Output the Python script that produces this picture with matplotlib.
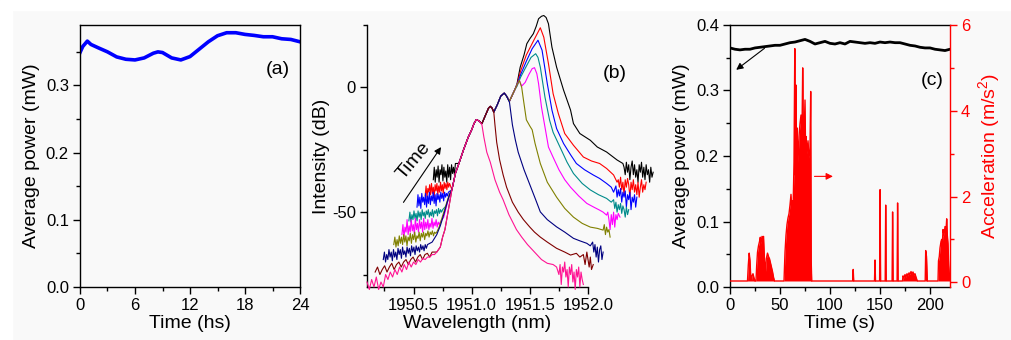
import numpy as np
import matplotlib
matplotlib.use("Agg")
import matplotlib.pyplot as plt
from matplotlib.patches import Rectangle
from matplotlib.ticker import MultipleLocator, FormatStrFormatter

plt.rcParams['font.family'] = ['Liberation Sans', 'DejaVu Sans']
plt.rcParams['mathtext.fontset'] = 'custom'
plt.rcParams['mathtext.rm'] = 'Liberation Sans'
plt.rcParams['mathtext.it'] = 'Liberation Sans:italic'
plt.rcParams['axes.unicode_minus'] = False

# ---------------- panel (a) data ----------------
a_time = [0, 0.3, 0.8, 1.2, 2, 3, 4, 5, 6, 7, 8, 8.5, 9, 10, 11, 12, 13, 14, 15, 16, 17, 18, 19, 20, 21, 22, 23, 24]
a_power = [0.349, 0.358, 0.366, 0.361, 0.356, 0.350, 0.3425, 0.339, 0.338, 0.341, 0.348, 0.350, 0.349, 0.341,
           0.338, 0.343, 0.354, 0.365, 0.374, 0.3785, 0.3785, 0.376, 0.3745, 0.3725, 0.3725, 0.3695, 0.3685, 0.365]

# ---------------- panel (b) data ----------------
env_wl = [1950.70, 1950.73, 1950.75, 1950.77, 1950.785, 1950.80, 1950.83, 1950.86, 1950.89, 1950.93, 1950.97,
          1951.00, 1951.02, 1951.04, 1951.065, 1951.088, 1951.12, 1951.145, 1951.16, 1951.175, 1951.19, 1951.22,
          1951.25, 1951.28, 1951.30, 1951.325, 1951.35, 1951.37]
env_db = [-66, -64, -60, -57, -53, -49, -41, -34.5, -30.5, -25, -20, -17, -14.5, -12.9, -13.5, -14.5, -11, -8.3,
          -7.6, -8.3, -9.9, -7, -3.5, -2.3, -3.5, -5.5, -3, -1]

curve_names = ['black', 'red', 'blue', 'teal', 'magenta', 'olive', 'navy', 'wine', 'pink']
curve_colors = ['#000000', '#FF0000', '#0000FF', '#008B8B', '#FF00FF', '#808000', '#000080', '#800000', '#FF1493']

floor_range = {
    'black': (1950.67, 1950.86), 'red': (1950.60, 1950.81), 'blue': (1950.53, 1950.80),
    'teal': (1950.46, 1950.75), 'magenta': (1950.40, 1950.73), 'olive': (1950.33, 1950.70),
    'navy': (1950.24, 1950.62), 'wine': (1950.17, 1950.68), 'pink': (1950.10, 1950.68)}
floor_black = [-37, -32, -38, -33, -36, -31.5, -38, -33, -35, -31, -37.5, -32, -36, -33.5, -38, -31, -36, -32, -37,
               -31, -34.5, -32, -35, -30.5]
floor_red = [-43.5, -39.5, -44, -40.5, -42, -39, -43, -38.5, -42.5, -40, -44, -39, -41.5, -38.5, -43, -39.5, -42, -38,
             -41.5, -39, -42.5, -38, -40.5, -38.5, -41, -38, -40, -38.5]
floor_blue = [-48, -43, -47.5, -44, -48.5, -42.5, -46, -44, -47, -42.5, -48, -43.5, -46.5, -42, -47, -43.5, -45.5, -42,
              -46.5, -43, -47.5, -42.5, -45, -43, -46, -42, -44.5, -42.5, -45.5, -42, -44, -42.5, -43.5, -42]
floor_teal = [-53.5, -50, -54, -51, -53, -49.5, -52.5, -50.5, -53.5, -49.5, -52, -50, -53, -49, -51.5, -50, -52.5,
              -49.5, -51, -49, -52, -50, -51.5, -49, -52, -49.5, -50.5, -49, -51.5, -48.5, -50.5, -49, -50, -49]
floor_magenta = [-59, -55, -60, -56, -58, -53, -59, -55.5, -58, -53, -57.5, -55, -59, -52.5, -57, -54.5, -58, -53,
                 -56.5, -54, -58, -52.5, -57, -54, -56.5, -53, -57, -54.5, -56, -52.5, -56.5, -54, -55.5, -53, -56,
                 -54, -55, -54]
floor_olive = [-63, -60, -64, -61, -63.5, -59.5, -62.5, -60, -63, -59, -62, -59.5, -63.5, -60, -61.5, -58.5, -62.5,
               -59, -61, -58, -62, -59.5, -60.5, -58, -61.5, -58.5, -60, -58, -61, -58.5, -59.5, -57.5, -60, -58,
               -59, -57.5, -59.5, -58, -58.5, -58]
floor_navy = [-69, -66, -70, -67, -69, -65, -68, -66, -69.5, -65, -68, -66, -69, -64.5, -67, -65, -68.5, -64, -67,
              -65.5, -68, -64, -66.5, -64.5, -67.5, -63.5, -66, -64, -67, -63.5, -65.5, -64, -66, -63, -65, -63.5,
              -65.5, -63, -64.5, -63]
floor_wine = [-74, -72, -75, -73, -71.5, -74, -72, -70.5, -73, -71, -70, -72, -70, -69, -71, -69, -68, -70, -68, -67,
              -69, -67, -66.5, -68, -66, -66]
floor_pink = [-78, -81, -77, -80, -76, -81, -78, -80, -75, -77, -74, -76, -73, -75, -72, -74, -71, -73, -70, -72, -70,
              -71, -69, -70, -68.5, -69, -68, -68, -67, -67]

join_wl = {'navy': [1950.66, 1950.70, 1950.73, 1950.76, 1950.79, 1950.81],
           'olive': [1950.72, 1950.75, 1950.78, 1950.81],
           'magenta': [1950.76, 1950.79, 1950.81],
           'teal': [1950.78, 1950.81]}
join_db = {'navy': [-62, -59, -55.5, -51, -46, -43],
           'olive': [-56, -51.5, -47, -42.5],
           'magenta': [-52, -46.5, -43],
           'teal': [-47.5, -43]}

own_black_wl = [1951.39, 1951.417, 1951.45, 1951.474, 1951.50, 1951.53, 1951.555, 1951.575, 1951.60, 1951.62, 1951.64,
                1951.66, 1951.69, 1951.73, 1951.79, 1951.85, 1951.875, 1951.93, 1952.02, 1952.08, 1952.16, 1952.25,
                1952.30, 1952.31, 1952.32, 1952.33, 1952.34, 1952.35, 1952.36, 1952.37, 1952.38, 1952.39, 1952.40,
                1952.41, 1952.42, 1952.43, 1952.44, 1952.45, 1952.46, 1952.47, 1952.48, 1952.49, 1952.50, 1952.51,
                1952.52, 1952.53, 1952.54, 1952.55, 1952.56]
own_black_db = [1.5, 8.1, 13, 17.5, 19.5, 21.5, 24.5, 27.5, 28.5, 28.8, 28, 25.5, 16.1, 8.1, -1.1, -9.1, -14.5, -18.5,
                -21.2, -23.9, -25.9, -29.1, -30.5, -32, -35, -30, -34, -31, -37, -32, -29.5, -35, -31, -36, -33, -38,
                -31, -34, -30, -36, -32, -37, -31, -35, -33, -38, -32, -36, -34]
own_red_wl = [1951.39, 1951.42, 1951.47, 1951.53, 1951.59, 1951.62, 1951.66, 1951.70, 1951.745, 1951.80, 1951.875,
              1951.96, 1952.03, 1952.10, 1952.16, 1952.22, 1952.25, 1952.26, 1952.27, 1952.28, 1952.29, 1952.30,
              1952.31, 1952.32, 1952.33, 1952.34, 1952.35, 1952.36, 1952.37, 1952.38, 1952.39, 1952.40, 1952.41,
              1952.42, 1952.43, 1952.44, 1952.45, 1952.46, 1952.47, 1952.48, 1952.49, 1952.50]
own_red_db = [1, 6.5, 13, 18.5, 23.9, 20.1, 9.5, -2.5, -10.5, -18.5, -23.2, -27.9, -29.5, -30.5, -32.5, -35.1, -38,
              -37, -40, -36, -41, -38, -43, -37, -40, -36.5, -39, -44, -38, -41, -37, -42, -39, -43, -38, -44, -40,
              -37, -42, -39, -41, -38]
own_blue_wl = [1951.39, 1951.42, 1951.47, 1951.52, 1951.57, 1951.605, 1951.65, 1951.69, 1951.73, 1951.79, 1951.85,
               1951.90, 1951.97, 1952.045, 1952.10, 1952.16, 1952.20, 1952.22, 1952.24, 1952.25, 1952.26, 1952.27,
               1952.28, 1952.29, 1952.30, 1952.31, 1952.32, 1952.33, 1952.34, 1952.35, 1952.36, 1952.37, 1952.38,
               1952.39, 1952.40, 1952.41, 1952.42]
own_blue_db = [1, 5, 10.5, 15.5, 18.9, 14.9, 1.5, -9.1, -16.5, -22.5, -27, -30.5, -33, -35.1, -36.5, -38.5, -40, -42,
               -39.5, -44, -41, -43.5, -40.5, -46, -42, -44, -41.5, -48, -43, -45, -42, -49, -44, -46, -43, -48, -44]
own_teal_wl = [1951.39, 1951.42, 1951.47, 1951.51, 1951.55, 1951.57, 1951.59, 1951.63, 1951.67, 1951.70, 1951.76,
               1951.82, 1951.875, 1951.95, 1952.02, 1952.09, 1952.16, 1952.20, 1952.22, 1952.23, 1952.24, 1952.25,
               1952.26, 1952.27, 1952.28, 1952.29, 1952.30, 1952.31, 1952.32, 1952.33, 1952.34, 1952.35]
own_teal_db = [0.5, 4, 8.5, 12, 13.5, 12, 8.1, -3.9, -13.2, -18, -24, -30, -34.5, -38.5, -41.1, -43, -44.5, -46, -45,
               -48.5, -46, -50, -47, -49, -46.5, -50.5, -47.5, -49, -52, -48, -51, -49]
own_magenta_wl = [1951.39, 1951.41, 1951.43, 1951.46, 1951.49, 1951.52, 1951.54, 1951.56, 1951.575, 1951.60,
                  1951.63, 1951.66, 1951.70, 1951.75, 1951.80, 1951.85, 1951.92, 1951.99, 1952.05, 1952.10, 1952.13,
                  1952.16, 1952.17, 1952.18, 1952.19, 1952.20, 1952.21, 1952.22, 1952.23, 1952.24, 1952.25, 1952.26,
                  1952.275]
own_magenta_db = [1, 2.8, 0.5, 2, 5, 7.5, 7.9, 5.5, 1.5, -7.9, -15.9, -23.9, -28, -33, -37, -40, -43.5, -46.5, -48,
                  -49.2, -50, -51.2, -50, -53, -57, -51, -55, -50, -56, -51, -53, -50.5, -52]
own_olive_wl = [1951.39, 1951.41, 1951.43, 1951.445, 1951.47, 1951.50, 1951.52, 1951.545, 1951.59, 1951.65, 1951.73,
                1951.80, 1951.875, 1951.95, 1952.02, 1952.08, 1952.13, 1952.14, 1952.15, 1952.16, 1952.17, 1952.18,
                1952.19]
own_olive_db = [1, 2.8, 0, -5, -13, -15.5, -17, -22.5, -30.5, -38, -44, -48.5, -52, -54.5, -56, -56.5, -57.2, -55,
                -59, -56, -58, -57, -60]
own_navy_wl = [1951.30, 1951.325, 1951.35, 1951.375, 1951.40, 1951.45, 1951.50, 1951.55, 1951.59, 1951.65, 1951.73,
               1951.80, 1951.875, 1951.93, 1951.99, 1952.02, 1952.04, 1952.05, 1952.06, 1952.07, 1952.08, 1952.09,
               1952.10, 1952.11, 1952.12, 1952.13]
own_navy_db = [-3.5, -6, -15, -21, -26, -33, -39, -45, -49.9, -53, -55.9, -58, -60.5, -61.5, -62.5, -63.5, -62, -66,
               -63, -68, -64, -70, -65, -63.5, -69, -66]
own_wine_wl = [1951.175, 1951.19, 1951.20, 1951.215, 1951.24, 1951.27, 1951.30, 1951.35, 1951.40, 1951.445, 1951.50,
               1951.54, 1951.59, 1951.65, 1951.73, 1951.80, 1951.85, 1951.90, 1951.93, 1951.96, 1951.975, 1951.99,
               1952.00, 1952.01, 1952.02, 1952.03, 1952.045]
own_wine_db = [-8.3, -9.9, -15, -22, -29, -35, -40, -46, -50, -53, -56, -58, -60, -62, -64.5, -66, -67.2, -66.5, -68,
               -67, -71, -66, -69, -72, -68, -73, -71]
own_pink_wl = [1951.065, 1951.088, 1951.105, 1951.13, 1951.16, 1951.20, 1951.24, 1951.27, 1951.32, 1951.385, 1951.43,
               1951.48, 1951.52, 1951.56, 1951.60, 1951.65, 1951.70, 1951.73, 1951.75, 1951.76, 1951.77, 1951.78,
               1951.79, 1951.80, 1951.81, 1951.82, 1951.83, 1951.84, 1951.85, 1951.86, 1951.87, 1951.88, 1951.89,
               1951.90, 1951.91, 1951.92, 1951.93, 1951.94, 1951.95, 1951.96]
own_pink_db = [-13.5, -15, -20, -26, -30, -37, -42, -45, -51, -57, -60, -63, -65, -67, -69, -70.5, -71, -72, -75, -71,
               -79, -72, -74, -70, -76, -73, -80, -72, -75, -71, -78, -74, -81, -73, -76, -72, -80, -74, -77, -79]

floors = {'black': floor_black, 'red': floor_red, 'blue': floor_blue, 'teal': floor_teal,
          'magenta': floor_magenta, 'olive': floor_olive, 'navy': floor_navy, 'wine': floor_wine, 'pink': floor_pink}
owns = {'black': (own_black_wl, own_black_db), 'red': (own_red_wl, own_red_db), 'blue': (own_blue_wl, own_blue_db),
        'teal': (own_teal_wl, own_teal_db), 'magenta': (own_magenta_wl, own_magenta_db),
        'olive': (own_olive_wl, own_olive_db), 'navy': (own_navy_wl, own_navy_db),
        'wine': (own_wine_wl, own_wine_db), 'pink': (own_pink_wl, own_pink_db)}

# ---------------- panel (c) data ----------------
c_time = [0, 5, 10, 15, 20, 25, 30, 35, 40, 45, 50, 55, 60, 65, 70, 75, 80, 85, 90, 95, 100, 105, 110, 115, 120,
          125, 130, 135, 140, 145, 150, 155, 160, 165, 170, 175, 180, 185, 190, 195, 200, 205, 210, 215, 220]
c_power = [0.365, 0.363, 0.362, 0.363, 0.363, 0.365, 0.366, 0.367, 0.368, 0.369, 0.369, 0.371, 0.373, 0.374, 0.376,
           0.378, 0.375, 0.371, 0.373, 0.375, 0.372, 0.371, 0.373, 0.371, 0.375, 0.374, 0.373, 0.372, 0.373, 0.372,
           0.374, 0.373, 0.374, 0.373, 0.373, 0.371, 0.369, 0.368, 0.366, 0.365, 0.365, 0.363, 0.362, 0.361, 0.363]
acc_time = [0, 17.5, 18.3, 19.2, 20, 20.7, 21.5, 22, 23, 24, 25,
            26, 26.7, 27.5, 28.5, 29.5, 30.3, 31, 32, 33, 33.5, 34.5, 35.5, 36.3, 37.5, 38.5, 39.5, 40.5, 41.5,
            42.5, 43.5, 44.5,
            54, 55, 56, 57, 58, 59, 60, 61, 62, 62.5, 63, 64, 64.8, 65.3, 66, 66.5, 67, 68, 69, 70, 71, 72, 72.7,
            73.3, 74, 75, 75.5, 76, 77, 78, 79, 80, 80.7, 81.2, 81.7,
            122.7, 123.2, 123.7, 144.5, 145, 145.5, 149.6, 150.1, 150.6, 155.2, 155.7, 156.2, 162.1, 162.6, 163.1,
            167.1, 167.6, 168.1,
            172.5, 173, 174, 175, 176, 177, 178, 179, 180, 181, 182, 183, 184, 185, 186, 187, 187.5,
            195.2, 195.7, 196.5, 197.3,
            208, 208.5, 209.3, 210, 211, 211.7, 212.3, 213, 214, 215, 216, 216.7, 217.3, 218, 218.7, 219.3, 220]
acc_value = [0.03, 0.03, 0.4, 0.68, 0.5, 0.15, 0.05, 0.15, 0.2, 0.1, 0.03,
             0.03, 0.4, 0.7, 0.85, 0.95, 1.05, 0.9, 1.07, 1.0, 1.07, 0.5, 0.25, 0.55, 0.68, 0.6, 0.55, 0.45, 0.35,
             0.25, 0.12, 0.03,
             0.03, 0.7, 1.1, 1.35, 1.5, 1.6, 1.8, 2.05, 1.5, 1.9, 1.6, 2.8, 5.45, 2.5, 4.6, 3.0, 3.6, 2.8, 3.4,
             3.7, 3.9, 3.5, 5.0, 3.6, 3.3, 4.25, 3.2, 3.4, 3.0, 3.3, 2.9, 3.1, 4.45, 0.5, 0.03,
             0.03, 0.30, 0.03, 0.03, 0.52, 0.03, 0.03, 2.16, 0.03, 0.03, 1.80, 0.03, 0.03, 1.64, 0.03,
             0.03, 1.85, 0.03,
             0.03, 0.15, 0.1, 0.18, 0.12, 0.2, 0.15, 0.22, 0.18, 0.25, 0.2, 0.24, 0.17, 0.2, 0.12, 0.05, 0.03,
             0.03, 0.74, 0.6, 0.03,
             0.03, 0.5, 0.6, 0.8, 0.95, 1.0, 0.85, 1.23, 1.1, 1.3, 1.2, 1.48, 1.1, 0.9, 0.4, 0.2, 0.05]

# ---------------- figure ----------------
W, H = 1012, 340
bg = '#f9f9f9'
fig = plt.figure(figsize=(W / 100, H / 100), dpi=100, facecolor=bg)
fig.patches.append(Rectangle((0, 1 - 10 / H), 1, 10 / H, transform=fig.transFigure, color='white', zorder=-5))
fig.patches.append(Rectangle((0, 0), 12 / W, 1, transform=fig.transFigure, color='white', zorder=-5))


def px_axes(x0, x1, y0, y1):
    return fig.add_axes([x0 / W, (H - y1) / H, (x1 - x0) / W, (y1 - y0) / H])


def style(ax):
    ax.set_facecolor('none')
    ax.tick_params(which='both', direction='out', width=1.0, labelsize=12, pad=3)
    ax.tick_params(which='major', length=5)
    ax.tick_params(which='minor', length=3)
    for s in ax.spines.values():
        s.set_linewidth(1.0)


# (a)
axa = px_axes(80, 300, 25, 287)
style(axa)
axa.plot(a_time, a_power, color='#0000FF', lw=2.6, solid_joinstyle='round')
axa.set_xlim(0, 24)
axa.set_ylim(0, 0.39)
axa.xaxis.set_major_locator(MultipleLocator(6))
axa.xaxis.set_minor_locator(MultipleLocator(3))
axa.yaxis.set_major_locator(MultipleLocator(0.1))
axa.yaxis.set_minor_locator(MultipleLocator(0.05))
axa.yaxis.set_major_formatter(FormatStrFormatter('%.1f'))
axa.set_xlabel('Time (hs)', fontsize=14, labelpad=1)
axa.set_ylabel('Average power (mW)', fontsize=14, labelpad=4)
axa.text(21.6, 0.324, '(a)', fontsize=14, ha='center', va='center')

# (b)
axb = px_axes(367, 588, 25, 287)
style(axb)
axb.spines['top'].set_visible(False)
axb.spines['right'].set_visible(False)
env_wl_a = np.array(env_wl)
env_db_a = np.array(env_db)
for i, (name, col) in enumerate(zip(curve_names, curve_colors)):
    f0, f1 = floor_range[name]
    fdb = floors[name]
    fwl = list(np.linspace(f0, f1, len(fdb)))
    jwl = join_wl.get(name, [])
    jdb = join_db.get(name, [])
    last = jwl[-1] if jwl else f1
    own_w, own_d = owns[name]
    m = (env_wl_a > last + 1e-9) & (env_wl_a < own_w[0] - 1e-9)
    wl = fwl + list(jwl) + list(env_wl_a[m]) + list(own_w)
    db = list(fdb) + list(jdb) + list(env_db_a[m]) + list(own_d)
    axb.plot(wl, db, color=col, lw=0.8, clip_on=False, zorder=2 + i)
axb.set_xlim(1950.1, 1952.0)
axb.set_ylim(-80, 25)
axb.xaxis.set_major_locator(MultipleLocator(0.5))
axb.xaxis.set_minor_locator(MultipleLocator(0.25))
axb.xaxis.set_major_formatter(FormatStrFormatter('%.1f'))
axb.set_yticks([-50, 0])
axb.set_yticks([-75, -25, 25], minor=True)
axb.set_xlabel('Wavelength (nm)', fontsize=14, labelpad=1)
axb.set_ylabel('Intensity (dB)', fontsize=14, labelpad=1)
axb.text(1952.23, 5.6, '(b)', fontsize=14, ha='center', va='center')
axb.annotate('', xy=(1950.75, -23), xytext=(1950.40, -47),
             arrowprops=dict(arrowstyle='-|>', color='k', lw=0.8, mutation_scale=10))
axb.text(1950.50, -29.5, 'Time', fontsize=14, rotation=50, ha='center', va='center')

# (c)
axc = px_axes(730, 950, 25, 287)
style(axc)
axc.plot(c_time, c_power, color='k', lw=2.0, zorder=5)
axc.set_xlim(0, 220)
axc.set_ylim(0, 0.4)
axc.xaxis.set_major_locator(MultipleLocator(50))
axc.xaxis.set_minor_locator(MultipleLocator(25))
axc.yaxis.set_major_locator(MultipleLocator(0.1))
axc.yaxis.set_minor_locator(MultipleLocator(0.05))
axc.yaxis.set_major_formatter(FormatStrFormatter('%.1f'))
axc.set_xlabel('Time (s)', fontsize=14, labelpad=1)
axc.set_ylabel('Average power (mW)', fontsize=14, labelpad=4)
axc.spines['right'].set_visible(False)
axc.text(201.7, 0.316, '(c)', fontsize=14, ha='center', va='center')
axc.annotate('', xy=(4, 0.329), xytext=(36.7, 0.367),
             arrowprops=dict(arrowstyle='-|>', color='k', lw=0.8, mutation_scale=10))

ax2 = axc.twinx()
ax2.set_position(axc.get_position())
style(ax2)
ax2.fill_between(acc_time, 0.03, acc_value, color='#FF0000', lw=0)
ax2.plot(acc_time, acc_value, color='#FF0000', lw=1.0)
ax2.set_ylim(-0.11, 6)
ax2.set_yticks([0, 2, 4, 6])
ax2.yaxis.set_minor_locator(MultipleLocator(1))
for s in ['left', 'top', 'bottom']:
    ax2.spines[s].set_visible(False)
ax2.spines['right'].set_color('#FF0000')
ax2.tick_params(axis='y', which='both', colors='#FF0000')
ax2.set_ylabel('Acceleration (m/s$^{2}$)', fontsize=14, color='#FF0000', labelpad=4)
ax2.annotate('', xy=(105.7, 2.47), xytext=(81.7, 2.47),
             arrowprops=dict(arrowstyle='-|>', color='#FF0000', lw=0.8, mutation_scale=10))

fig.savefig('out.png', dpi=100, facecolor=bg)
